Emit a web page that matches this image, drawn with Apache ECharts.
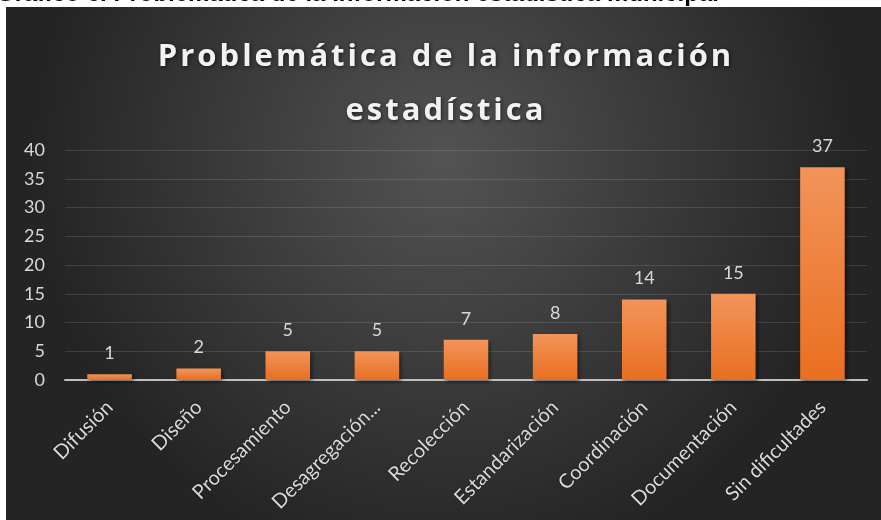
<!DOCTYPE html>
<html>
<head>
<meta charset="utf-8">
<script src="https://cdn.jsdelivr.net/npm/echarts@6/dist/echarts.min.js"></script>
<style>
  html, body { margin: 0; padding: 0; background: #fff; }
  #main { width: 881px; height: 520px; }
</style>
</head>
<body>
<div id="main"></div>
<script>
// datos del gráfico
const categorias = ['Difusión', 'Diseño', 'Procesamiento', 'Desagregación...', 'Recolección',
  'Estandarización', 'Coordinación', 'Documentación', 'Sin dificultades']
const valores = [1, 2, 5, 5, 7, 8, 14, 15, 37]
const ejeY = { min: 0, max: 40, interval: 5 }
const titulo = 'Problemática de la información\nestadística'
const encabezado = 'Gráfico 6. Problemática de la información estadística municipal'

;(function () {
  let myChart = echarts.init(document.getElementById('main'))
  let option = {
    animation: false,
    // fondo oscuro + encabezado cortado arriba
    graphic: [
      {
        type: 'text',
        z: -10,
        style: {
          x: -4, y: 6,
          text: encabezado,
          verticalAlign: 'bottom',
          font: 'bold 24px "Liberation Sans", Arial',
          fill: '#000'
        }
      },
      {
        type: 'rect',
        z: -5,
        shape: { x: 6, y: 7, width: 875, height: 513 },
        style: {
          fill: new echarts.graphic.RadialGradient(0.5, 0.3, 0.8, [
            { offset: 0, color: '#535353' },
            { offset: 1, color: '#242424' }
          ])
        }
      }
    ],
    // el título va en su propia capa (zlevel 1) para darle espaciado entre letras
    title: {
      text: titulo,
      left: 441,
      textAlign: 'center',
      top: 25,
      zlevel: 1,
      textStyle: {
        color: '#f2f2f2',
        fontFamily: '"Open Sans"',
        fontWeight: 'bold',
        fontSize: 31,
        lineHeight: 54,
        textShadowColor: 'rgba(0,0,0,0.6)',
        textShadowBlur: 4,
        textShadowOffsetX: 1,
        textShadowOffsetY: 1
      }
    },
    grid: {
      left: 65,
      right: 14,
      top: 150,
      bottom: 140,
      containLabel: false
    },
    xAxis: {
      type: 'category',
      data: categorias,
      axisTick: { show: false },
      axisLine: {
        lineStyle: { color: '#bfbfbf', width: 2 }
      },
      axisLabel: {
        rotate: 45,
        interval: 0,
        margin: 24,
        color: '#d9d9d9',
        fontFamily: 'Lato',
        fontSize: 20,
        textShadowColor: 'rgba(0,0,0,0.5)',
        textShadowBlur: 2
      }
    },
    yAxis: {
      type: 'value',
      min: ejeY.min,
      max: ejeY.max,
      interval: ejeY.interval,
      axisLine: { show: false },
      axisTick: { show: false },
      axisLabel: {
        margin: 20,
        color: '#d9d9d9',
        fontFamily: 'Lato',
        fontSize: 18
      },
      splitLine: {
        lineStyle: { color: 'rgba(255, 255, 255, .12)' }
      }
    },
    series: [
      {
        type: 'bar',
        data: valores,
        barWidth: '50%',
        itemStyle: {
          color: new echarts.graphic.LinearGradient(0, 0, 0, 1, [
            { offset: 0, color: '#f2945a' },
            { offset: 1, color: '#e96f20' }
          ]),
          shadowColor: 'rgba(0,0,0,0.5)',
          shadowBlur: 4,
          shadowOffsetX: 2,
          shadowOffsetY: 2
        },
        label: {
          show: true,
          position: 'top',
          distance: 12,
          color: '#d9d9d9',
          fontFamily: 'Lato',
          fontSize: 18
        }
      }
    ]
  }

  myChart.setOption(option)

  // espaciado entre letras del título (capa 1 del canvas)
  let zr = myChart.getZr()
  let capa = zr.painter.getLayer && zr.painter.getLayer(1)
  if (capa && capa.ctx && 'letterSpacing' in capa.ctx) {
    capa.ctx.letterSpacing = '3px'
    zr.painter.refresh(true)
  }
})()
</script>
</body>
</html>
